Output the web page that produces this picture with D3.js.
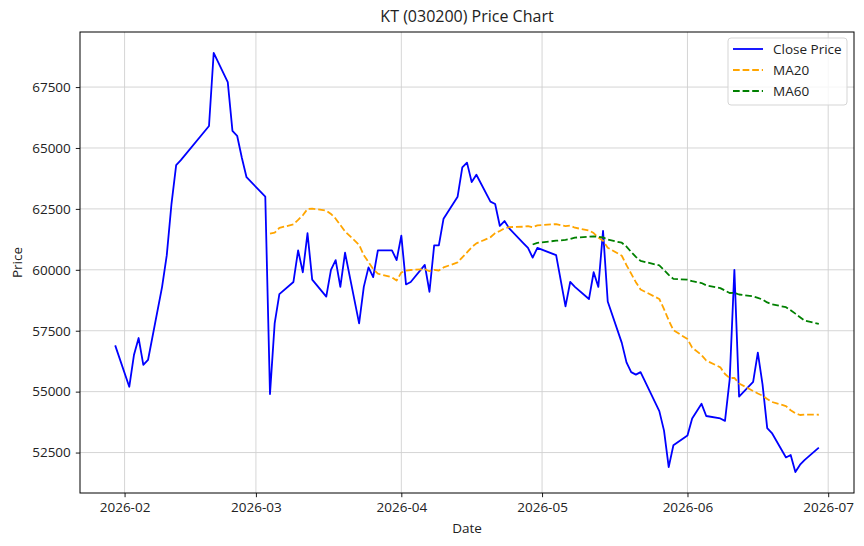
<!DOCTYPE html>
<html>
<head>
<meta charset="utf-8">
<script src="https://cdn.jsdelivr.net/npm/d3@7"></script>
<style>
  body { margin: 0; background: #fff; }
  svg text { font-family: "Open Sans", "Noto Sans", sans-serif; fill: #222; }
</style>
</head>
<body>
<div id="chart"></div>
<script>
// dimensions
const width = 864;
const height = 546;
const margin = { top: 32, right: 10, bottom: 53, left: 80 };

// trading days (KRX)
const dates = [
  "2026-01-30",
  "2026-02-02", "2026-02-03", "2026-02-04", "2026-02-05", "2026-02-06",
  "2026-02-09", "2026-02-10", "2026-02-11", "2026-02-12", "2026-02-13",
  "2026-02-19", "2026-02-20",
  "2026-02-23", "2026-02-24", "2026-02-25", "2026-02-26", "2026-02-27",
  "2026-03-03", "2026-03-04", "2026-03-05", "2026-03-06",
  "2026-03-09", "2026-03-10", "2026-03-11", "2026-03-12", "2026-03-13",
  "2026-03-16", "2026-03-17", "2026-03-18", "2026-03-19", "2026-03-20",
  "2026-03-23", "2026-03-24", "2026-03-25", "2026-03-26", "2026-03-27",
  "2026-03-30", "2026-03-31", "2026-04-01", "2026-04-02", "2026-04-03",
  "2026-04-06", "2026-04-07", "2026-04-08", "2026-04-09", "2026-04-10",
  "2026-04-13", "2026-04-14", "2026-04-15", "2026-04-16", "2026-04-17",
  "2026-04-20", "2026-04-21", "2026-04-22", "2026-04-23", "2026-04-24",
  "2026-04-27", "2026-04-28", "2026-04-29", "2026-04-30",
  "2026-05-04", "2026-05-06", "2026-05-07", "2026-05-08",
  "2026-05-11", "2026-05-12", "2026-05-13", "2026-05-14", "2026-05-15",
  "2026-05-18", "2026-05-19", "2026-05-20", "2026-05-21", "2026-05-22",
  "2026-05-26", "2026-05-27", "2026-05-28", "2026-05-29",
  "2026-06-01", "2026-06-02", "2026-06-04", "2026-06-05",
  "2026-06-08", "2026-06-09", "2026-06-10", "2026-06-11", "2026-06-12",
  "2026-06-15", "2026-06-16", "2026-06-17", "2026-06-18", "2026-06-19",
  "2026-06-22", "2026-06-23", "2026-06-24", "2026-06-25", "2026-06-26",
  "2026-06-29"
];

const closePrice = [
  56900,
  55200, 56500, 57200, 56100, 56300,
  59300, 60600, 62700, 64300, 64500,
  65900, 68900,
  67700, 65700, 65500, 64600, 63800,
  63000, 54900, 57800, 59000,
  59500, 60800, 59900, 61500, 59600,
  58900, 60000, 60400, 59300, 60700,
  57800, 59300, 60100, 59700, 60800,
  60800, 60400, 61400, 59400, 59500,
  60200, 59100, 61000, 61000, 62100,
  63000, 64200, 64400, 63600, 63900,
  62800, 62700, 61800, 62000, 61700,
  61100, 60900, 60500, 60900,
  60600, 58500, 59500, 59300,
  58800, 59900, 59300, 61600, 58700,
  57000, 56200, 55800, 55700, 55800,
  54200, 53400, 51900, 52800,
  53200, 53900, 54500, 54000,
  53900, 53800, 55500, 60000, 54800,
  55400, 56600, 55300, 53500, 53300,
  52300, 52400, 51700, 52000, 52200,
  52700
];

// 20-day moving average (null until 20 closes exist)
const ma20 = [
  null, null, null, null, null, null, null, null, null, null,
  null, null, null, null, null, null, null, null, null,
  61482, 61527, 61717, 61867, 62047, 62237, 62497, 62512, 62427, 62292,
  62097, 61837, 61577, 61022, 60602, 60322, 60032, 59842, 59692, 59562,
  59887, 59967, 59992, 60027, 59942, 59997, 59972, 60097, 60302, 60512,
  60712, 60927, 61087, 61337, 61507, 61592, 61707, 61752, 61767, 61792,
  61747, 61822, 61877, 61792, 61812, 61727, 61617, 61507, 61322, 61192,
  60907, 60577, 60192, 59842, 59492, 59192, 58802, 58387, 57927, 57522,
  57157, 56807, 56502, 56277, 55997, 55722, 55557, 55562, 55337, 55027,
  54922, 54837, 54702, 54577, 54407, 54237, 54112, 54042, 54057, 54052
];

// 60-day moving average
const ma60 = [
  null, null, null, null, null, null, null, null, null, null,
  null, null, null, null, null, null, null, null, null, null,
  null, null, null, null, null, null, null, null, null, null,
  null, null, null, null, null, null, null, null, null, null,
  null, null, null, null, null, null, null, null, null, null,
  null, null, null, null, null, null, null, null, null,
  61038, 61104, 61194, 61228, 61266, 61319, 61361, 61371, 61349, 61331,
  61238, 61113, 60951, 60733, 60533, 60368, 60180, 59993, 59795, 59625,
  59597, 59532, 59457, 59365, 59250, 59148, 59048, 59055, 58987, 58910,
  58847, 58780, 58660, 58585, 58468, 58340, 58202, 58055, 57912, 57784
];

const yTicks = [52500, 55000, 57500, 60000, 62500, 65000, 67500];

const series = [
  { name: "Close Price", values: closePrice, color: "blue", dash: null },
  { name: "MA20", values: ma20, color: "orange", dash: "6.7,2.9" },
  { name: "MA60", values: ma60, color: "green", dash: "6.7,2.9" }
];

const parse = d3.utcParse("%Y-%m-%d");
const xDates = dates.map(parse);

// scales with matplotlib-like 5% margins
const xExt = d3.extent(xDates);
const xPad = (xExt[1] - xExt[0]) * 0.05;
const x = d3.scaleUtc()
  .domain([new Date(+xExt[0] - xPad), new Date(+xExt[1] + xPad)])
  .range([margin.left, width - margin.right]);

const yExt = d3.extent(closePrice);
const yPad = (yExt[1] - yExt[0]) * 0.05;
const y = d3.scaleLinear()
  .domain([yExt[0] - yPad, yExt[1] + yPad])
  .range([height - margin.bottom, margin.top]);

const svg = d3.select("#chart").append("svg")
  .attr("width", width)
  .attr("height", height);

const plotW = width - margin.left - margin.right;
const plotH = height - margin.top - margin.bottom;

// grid
const xTicks = x.ticks(d3.utcMonth.every(1));
svg.append("g")
  .selectAll("line")
  .data(xTicks)
  .join("line")
  .attr("x1", d => x(d)).attr("x2", d => x(d))
  .attr("y1", margin.top).attr("y2", height - margin.bottom)
  .attr("stroke", "#d0d0d0").attr("stroke-width", 0.9);

svg.append("g")
  .selectAll("line")
  .data(yTicks)
  .join("line")
  .attr("x1", margin.left).attr("x2", width - margin.right)
  .attr("y1", d => y(d)).attr("y2", d => y(d))
  .attr("stroke", "#d0d0d0").attr("stroke-width", 0.9);

// lines
const clip = svg.append("clipPath").attr("id", "plot-clip")
  .append("rect")
  .attr("x", margin.left).attr("y", margin.top)
  .attr("width", plotW).attr("height", plotH);

const line = vals => d3.line()
  .defined((d, i) => vals[i] != null)
  .x((d, i) => x(xDates[i]))
  .y((d, i) => y(vals[i]))(vals);

svg.append("g")
  .attr("clip-path", "url(#plot-clip)")
  .selectAll("path")
  .data(series)
  .join("path")
  .attr("d", d => line(d.values))
  .attr("fill", "none")
  .attr("stroke", d => d.color)
  .attr("stroke-width", 1.8)
  .attr("stroke-dasharray", d => d.dash)
  .attr("stroke-linejoin", "round");

// axes
const xAxis = svg.append("g")
  .attr("transform", `translate(0,${height - margin.bottom})`)
  .call(d3.axisBottom(x).tickValues(xTicks).tickFormat(d3.utcFormat("%Y-%m")).tickSizeOuter(0).tickSize(4.2).tickPadding(5));

const yAxis = svg.append("g")
  .attr("transform", `translate(${margin.left},0)`)
  .call(d3.axisLeft(y).tickValues(yTicks).tickFormat(d3.format("d")).tickSizeOuter(0).tickSize(4.2).tickPadding(5));

[xAxis, yAxis].forEach(a => {
  a.select(".domain").remove();
  a.selectAll("line").attr("stroke", "#000").attr("stroke-width", 0.9);
  a.selectAll("text").attr("font-size", "13.5px").attr("fill", "#222")
    .style("font-family", "'Open Sans', sans-serif");
});

// frame
svg.append("rect")
  .attr("x", margin.left).attr("y", margin.top)
  .attr("width", plotW).attr("height", plotH)
  .attr("fill", "none").attr("stroke", "#000").attr("stroke-width", 1);

// labels
svg.append("text")
  .attr("x", margin.left + plotW / 2).attr("y", 22)
  .attr("text-anchor", "middle").attr("font-size", "16px")
  .text("KT (030200) Price Chart");

svg.append("text")
  .attr("x", margin.left + plotW / 2).attr("y", 533)
  .attr("text-anchor", "middle").attr("font-size", "13.5px")
  .text("Date");

svg.append("text")
  .attr("transform", `translate(22,${margin.top + plotH / 2}) rotate(-90)`)
  .attr("text-anchor", "middle").attr("font-size", "13.5px")
  .text("Price");

// legend
const lg = svg.append("g").attr("transform", "translate(728,38)");
lg.append("rect")
  .attr("width", 119).attr("height", 67).attr("rx", 3)
  .attr("fill", "#fff").attr("fill-opacity", 0.8)
  .attr("stroke", "#d5d5d5").attr("stroke-width", 1);

const item = lg.selectAll("g.item")
  .data(series)
  .join("g")
  .attr("class", "item")
  .attr("transform", (d, i) => `translate(0,${11 + i * 21})`);

item.append("line")
  .attr("x1", 5).attr("x2", 35)
  .attr("stroke", d => d.color).attr("stroke-width", 1.8)
  .attr("stroke-dasharray", d => d.dash);

item.append("text")
  .attr("x", 45).attr("dy", "0.35em")
  .attr("font-size", "13.5px")
  .text(d => d.name);
</script>
</body>
</html>
